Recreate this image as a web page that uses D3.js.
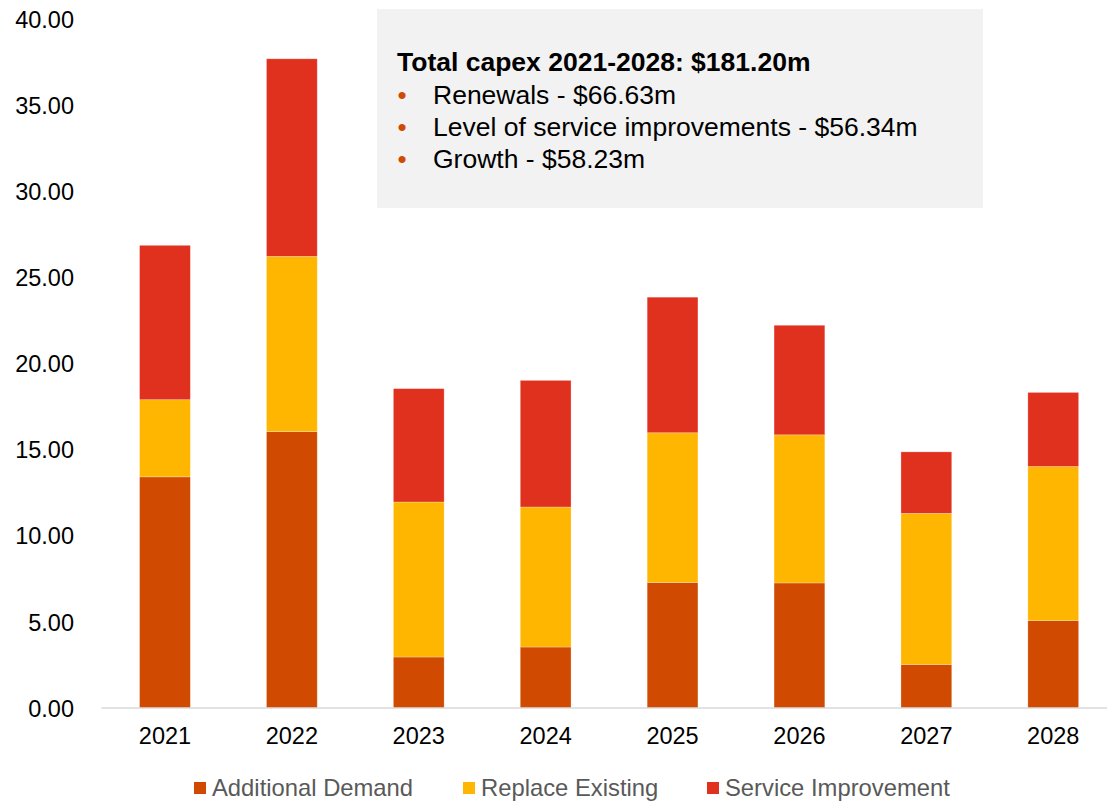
<!DOCTYPE html>
<html>
<head>
<meta charset="utf-8">
<script src="https://cdn.jsdelivr.net/npm/d3@7"></script>
<style>
  html, body { margin: 0; padding: 0; background: #fff; }
  svg { display: block; font-family: "Liberation Sans", Arial, sans-serif; }
</style>
</head>
<body>
<svg id="chart" width="1107" height="801"></svg>
<script>
// Capital expenditure by year ($m), split by driver
const years = ["2021", "2022", "2023", "2024", "2025", "2026", "2027", "2028"];
const additionalDemand   = [13.42, 16.05, 2.96, 3.54, 7.29, 7.26, 2.53, 5.08];
const replaceExisting    = [4.48, 10.17, 9.00, 8.13, 8.69, 8.60, 8.77, 8.94];
const serviceImprovement = [8.96, 11.47, 6.58, 7.35, 7.87, 6.36, 3.57, 4.30];

const seriesNames  = ["Additional Demand", "Replace Existing", "Service Improvement"];
const seriesColors = ["#d04a02", "#ffb600", "#e0301e"];
const yTicks = [0, 5, 10, 15, 20, 25, 30, 35, 40];

const summaryTitle = "Total capex 2021-2028: $181.20m";
const summaryLines = [
  "Renewals - $66.63m",
  "Level of service improvements - $56.34m",
  "Growth - $58.23m"
];

const svg = d3.select("#chart");

// Build rows for the stack layout
const rows = years.map((y, i) => ({
  year: y,
  "Additional Demand": additionalDemand[i],
  "Replace Existing": replaceExisting[i],
  "Service Improvement": serviceImprovement[i]
}));
const stacked = d3.stack().keys(seriesNames)(rows);

const x = d3.scaleBand()
  .domain(years)
  .range([101.5, 1116.7])
  .paddingInner(0.6)
  .paddingOuter(0.3);

const y = d3.scaleLinear()
  .domain([0, 40])
  .range([708, 19]);

const color = d3.scaleOrdinal().domain(seriesNames).range(seriesColors);

// Summary panel
svg.append("rect")
  .attr("x", 377).attr("y", 9)
  .attr("width", 606).attr("height", 199)
  .attr("fill", "#f2f2f2");

svg.append("text")
  .attr("x", 397).attr("y", 71)
  .attr("font-size", 26.5).attr("font-weight", "bold")
  .attr("fill", "#000")
  .text(summaryTitle);

const lineG = svg.append("g");
summaryLines.forEach((t, i) => {
  const by = 104 + i * 32;
  lineG.append("text")
    .attr("x", 402).attr("y", by)
    .attr("text-anchor", "middle")
    .attr("font-size", 26)
    .attr("fill", "#d04a02")
    .text("\u2022");
  lineG.append("text")
    .attr("x", 433).attr("y", by)
    .attr("font-size", 26.5)
    .attr("fill", "#000")
    .text(t);
});

// Stacked bars
svg.append("g")
  .selectAll("g")
  .data(stacked)
  .join("g")
  .attr("fill", d => color(d.key))
  .selectAll("rect")
  .data(d => d)
  .join("rect")
  .attr("x", d => x(d.data.year))
  .attr("width", x.bandwidth())
  .attr("y", d => y(d[1]))
  .attr("height", d => y(d[0]) - y(d[1]))
  .attr("stroke", "#fff")
  .attr("stroke-opacity", 0.35)
  .attr("stroke-width", 0.75);

// Baseline
svg.append("line")
  .attr("x1", 101.5).attr("x2", 1107)
  .attr("y1", y(0)).attr("y2", y(0))
  .attr("stroke", "#d9d9d9")
  .attr("stroke-width", 1.5);

// Y axis labels
const yAxis = d3.axisLeft(y)
  .tickValues(yTicks)
  .tickFormat(d3.format(".2f"))
  .tickSize(0)
  .tickPadding(0);
const yG = svg.append("g")
  .attr("transform", "translate(74,0)")
  .call(yAxis);
yG.select(".domain").remove();
yG.selectAll("text")
  .attr("font-size", 23.5)
  .attr("font-family", "Liberation Sans, Arial, sans-serif")
  .attr("fill", "#000")
  .attr("dy", "0.35em");

// X axis labels
const xAxis = d3.axisBottom(x).tickSize(0).tickPadding(0);
const xG = svg.append("g")
  .attr("transform", "translate(0,727)")
  .call(xAxis);
xG.select(".domain").remove();
xG.selectAll("text")
  .attr("font-size", 23.5)
  .attr("font-family", "Liberation Sans, Arial, sans-serif")
  .attr("fill", "#000")
  .attr("dy", "0.74em");

// Legend
const legendX = [194, 463, 707];
const legend = svg.append("g");
seriesNames.forEach((name, i) => {
  legend.append("rect")
    .attr("x", legendX[i]).attr("y", 782)
    .attr("width", 12).attr("height", 12)
    .attr("fill", seriesColors[i]);
  legend.append("text")
    .attr("x", legendX[i] + 18).attr("y", 796)
    .attr("font-size", 23.8)
    .attr("fill", "#595959")
    .text(name);
});
</script>
</body>
</html>
